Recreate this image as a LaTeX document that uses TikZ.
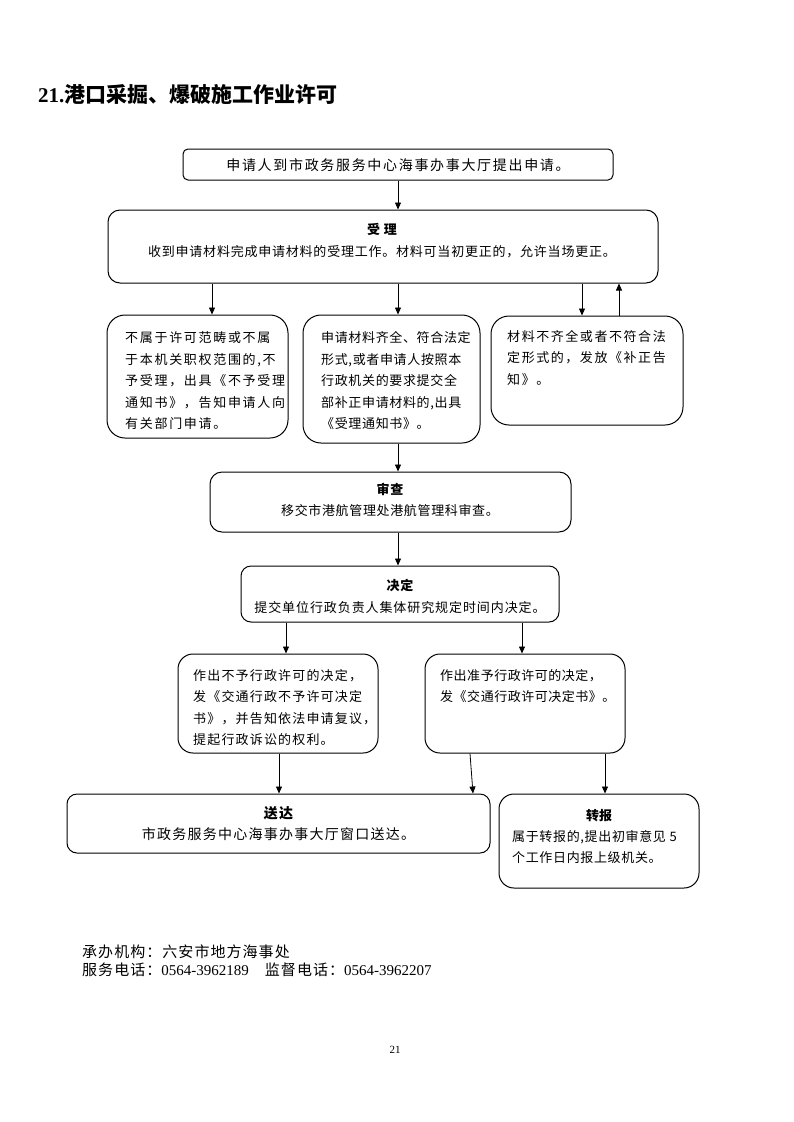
\documentclass[tikz,border=0pt]{standalone}
\usepackage{fontspec}
\setmainfont{Noto Sans CJK SC}
\newfontfamily\lat{Liberation Serif}
\usetikzlibrary{arrows.meta,positioning,calc}

\begin{document}
\begin{tikzpicture}
[x=1pt,y=-1pt,
box/.style={draw,line width=1pt,inner sep=0pt},
arr/.style={-{Triangle[length=7pt,width=6pt]},line width=0.8pt},
txt/.style={inner sep=0pt,align=left,font={\fontsize{13}{21.5}\selectfont\addfontfeature{LetterSpace=#1}}},
txt/.default=7,
hd/.style={inner sep=0pt,font={\fontsize{13}{21.5}\selectfont\bfseries}}]
%%%%%%%%%%
\useasboundingbox (0,0) rectangle (793,1122);

% name, x1, y1, x2, y2, radius
\newcommand{\panel}[6]{
\node[box,rounded corners=#6,minimum width={#4-#2},minimum height={#5-#3}]
  (#1) at ({(#2+#4)/2},{(#3+#5)/2}) {};
}
%%%%%%%%%%

%% title
\node[anchor=west,inner sep=0pt,font={\fontsize{21}{24}\selectfont\bfseries}] (title) at (38,94)
  {{\lat 21.}港口采掘、爆破施工作业许可};

%% boxes
\panel{b1}{183}{149}{613}{180}{5pt}
\panel{b2}{108}{210}{658}{283}{12pt}
\panel{b3a}{107}{315}{288}{438}{18pt}
\panel{b3b}{303}{315}{480}{443}{18pt}
\panel{b3c}{491}{316}{683}{425}{18pt}
\panel{b4}{210}{472}{571}{532}{12pt}
\panel{b5}{241}{566}{559}{622}{10pt}
\panel{b6a}{178}{654}{378}{753}{15pt}
\panel{b6b}{425}{654}{625}{753}{15pt}
\panel{b7a}{67}{794}{490}{853}{10pt}
\panel{b7b}{499}{794}{699}{888}{15pt}

%% texts
\node[inner sep=0pt,font={\fontsize{14}{22}\selectfont\addfontfeature{LetterSpace=12}}] (t1) at (398,165)
  {申请人到市政务服务中心海事办事大厅提出申请。};
\node[txt=6,align=center] (t2) at (382,240.5)
  {{\bfseries 受 理}\\收到申请材料完成申请材料的受理工作。材料可当初更正的，允许当场更正。};
\node[txt=13,anchor=west] (t3a) at (125,381)
  {不属于许可范畴或不属\\于本机关职权范围的,不\\予受理，出具《不予受理\\通知书》，告知申请人向\\有关部门申请。};
\node[txt=5,anchor=west] (t3b) at (321,381)
  {申请材料齐全、符合法定\\形式,或者申请人按照本\\行政机关的要求提交全\\部补正申请材料的,出具\\《受理通知书》。};
\node[txt=12,anchor=west] (t3c) at (507,358)
  {材料不齐全或者不符合法\\定形式的，发放《补正告\\知》。};
\node[txt=5,align=center] (t4) at (390,500)
  {{\bfseries 审查}\\移交市港航管理处港航管理科审查。};
\node[txt=7,align=center,font={\fontsize{13}{22.5}\selectfont\addfontfeature{LetterSpace=7}}] (t5) at (400,596.5)
  {{\bfseries 决定}\\提交单位行政负责人集体研究规定时间内决定。};
\node[txt=9,anchor=west] (t6a) at (193,707.5)
  {作出不予行政许可的决定，\\发《交通行政不予许可决定\\书》，并告知依法申请复议，\\提起行政诉讼的权利。};
\node[txt=4,anchor=west] (t6b) at (440,686)
  {作出准予行政许可的决定，\\发《交通行政许可决定书》。};
\node[inner sep=0pt,align=center,font={\fontsize{14}{21}\selectfont\addfontfeature{LetterSpace=9}}] (t7a) at (278.5,823.5)
  {{\bfseries 送达}\\市政务服务中心海事办事大厅窗口送达。};
\node[hd] (t7bh) at (599,816) {转报};
\node[txt=5,anchor=west] (t7b) at (512,847)
  {属于转报的,提出初审意见 5\\个工作日内报上级机关。};

%% arrows
\draw[arr] (b1.south) -- (398,0 |- b2.north);
\draw[arr] (212,0 |- b2.south) -- (212,0 |- b3a.north);
\draw[arr] (398,0 |- b2.south) -- (398,0 |- b3b.north);
\draw[arr] (582,0 |- b2.south) -- (582,0 |- b3c.north);
\draw[arr] (619,0 |- b3c.north) -- (619,0 |- b2.south);
\draw[arr] (398,0 |- b3b.south) -- (398,0 |- b4.north);
\draw[arr] (398,0 |- b4.south) -- (398,0 |- b5.north);
\draw[arr] (286,0 |- b5.south) -- (286,0 |- b6a.north);
\draw[arr] (522,0 |- b5.south) -- (522,0 |- b6b.north);
\draw[arr] (279,0 |- b6a.south) -- (279,0 |- b7a.north);
\draw[arr] (470,0 |- b6b.south) -- (473,0 |- b7a.north);
\draw[arr] (605,0 |- b6b.south) -- (605,0 |- b7b.north);

%% footer
\node[anchor=west,inner sep=0pt,font={\fontsize{15}{18}\selectfont\addfontfeature{LetterSpace=7}}] (f1) at (82,952)
  {承办机构：六安市地方海事处};
\node[anchor=west,inner sep=0pt,font={\fontsize{15}{18}\selectfont\addfontfeature{LetterSpace=7}}] (f2) at (82,970)
  {服务电话：{\lat\fontsize{15}{18}\selectfont 0564-3962189}　监督电话：{\lat\fontsize{15}{18}\selectfont 0564-3962207}};
\node[inner sep=0pt,font={\lat\fontsize{11}{13}\selectfont}] (pg) at (395,1050) {21};
\end{tikzpicture}
\end{document}
